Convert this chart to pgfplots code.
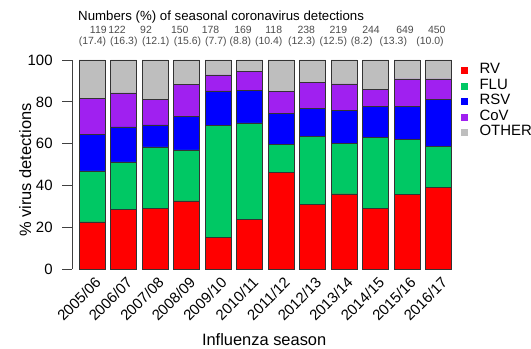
\documentclass[border=0pt]{standalone}
\usepackage{fontspec}
\setmainfont{Liberation Sans}
\usepackage{pgfplots}
\pgfplotsset{compat=1.18}
\definecolor{cRV}{RGB}{255,0,0}
\definecolor{cFLU}{RGB}{0,200,100}
\definecolor{cRSV}{RGB}{0,0,255}
\definecolor{cCoV}{RGB}{160,32,240}
\definecolor{cOTH}{RGB}{190,190,190}
\tikzset{numlab/.style={anchor=base, inner sep=0pt, text=black!70, font=\fontsize{10.5}{12}\selectfont}}
\begin{document}
\begin{tikzpicture}
\begin{axis}[
 scale only axis, width=381.8bp, height=209.3bp,
 xmin=-0.62, xmax=11.5, ymin=0, ymax=100,
 ybar stacked, bar width=26bp,
 axis lines*=left,
 x axis line style={draw=none},
 y axis line style={black!75, line width=0.8bp},
 xtick={0,...,11},
 xticklabels={2005/06,2006/07,2007/08,2008/09,2009/10,2010/11,2011/12,2012/13,2013/14,2014/15,2015/16,2016/17},
 xtick style={draw=none},
 ytick={0,20,...,100},
 ytick style={black!75, line width=0.8bp},
 tick align=outside, major tick length=10bp,
 /pgf/number format/assume math mode=true,
 yticklabel style={font=\fontsize{15}{18}\selectfont, anchor=east, inner sep=0pt, xshift=-9.7bp},
 xticklabel style={font=\fontsize{15}{18}\selectfont, rotate=45, anchor=north east, inner sep=0pt, xshift=4bp, yshift=1bp},
 ylabel={\% virus detections},
 ylabel style={at={(axis description cs:-0.124,0.474)}, anchor=center, font=\fontsize{16.5}{19}\selectfont},
 xlabel={Influenza season},
 xlabel style={at={(axis description cs:0.502,0)}, anchor=base, yshift=-75.7bp, font=\fontsize{16.5}{19}\selectfont},
 legend style={at={(axis cs:11.705,98.85)}, anchor=north west, draw=none, fill=none, inner sep=0pt, column sep=12bp, row sep=0pt,
   nodes={inner sep=0pt, text height=11bp, text depth=4.5bp}, font=\fontsize{15}{15.5}\selectfont},
 legend cell align=left,
 clip=false,
 every axis plot/.append style={draw=black!80, line width=0.6bp},
]
\addplot[fill=cRV, legend image code/.code={\fill[cRV] (0bp,-3bp) rectangle (6bp,3bp);}] coordinates {(0,22.6) (1,28.5) (2,29.2) (3,32.7) (4,15.3) (5,23.9) (6,46.4) (7,31.1) (8,36.0) (9,29.0) (10,35.7) (11,39.2)};
\addplot[fill=cFLU, legend image code/.code={\fill[cFLU] (0bp,-3bp) rectangle (6bp,3bp);}] coordinates {(0,24.4) (1,22.8) (2,29.3) (3,24.3) (4,53.6) (5,46.0) (6,13.1) (7,32.3) (8,24.0) (9,34.2) (10,26.2) (11,19.6)};
\addplot[fill=cRSV, legend image code/.code={\fill[cRSV] (0bp,-3bp) rectangle (6bp,3bp);}] coordinates {(0,17.3) (1,16.7) (2,10.5) (3,15.9) (4,16.3) (5,15.7) (6,15.0) (7,13.6) (8,16.1) (9,14.5) (10,15.8) (11,22.2)};
\addplot[fill=cCoV, legend image code/.code={\fill[cCoV] (0bp,-3bp) rectangle (6bp,3bp);}] coordinates {(0,17.4) (1,16.3) (2,12.1) (3,15.6) (4,7.7) (5,8.8) (6,10.4) (7,12.3) (8,12.5) (9,8.2) (10,13.3) (11,10.0)};
\addplot[fill=cOTH, legend image code/.code={\fill[cOTH] (0bp,-3bp) rectangle (6bp,3bp);}] coordinates {(0,18.3) (1,15.7) (2,18.9) (3,11.5) (4,7.1) (5,5.6) (6,15.1) (7,10.7) (8,11.4) (9,14.1) (10,9.0) (11,9.0)};
\legend{RV,FLU,RSV,CoV,OTHER}
\node[anchor=base west, inner sep=0pt, font=\fontsize{13.3}{16}\selectfont] at (axis cs:-0.444,118.8) {Numbers (\%) of seasonal coronavirus detections};
\node[numlab] at (axis cs:0.2,112.8) {119};
\node[numlab] at (axis cs:0.794,112.8) {122};
\node[numlab] at (axis cs:1.714,112.8) {92};
\node[numlab] at (axis cs:2.784,112.8) {150};
\node[numlab] at (axis cs:3.762,112.8) {178};
\node[numlab] at (axis cs:4.794,112.8) {169};
\node[numlab] at (axis cs:5.768,112.8) {118};
\node[numlab] at (axis cs:6.803,112.8) {238};
\node[numlab] at (axis cs:7.819,112.8) {219};
\node[numlab] at (axis cs:8.857,112.8) {244};
\node[numlab] at (axis cs:9.937,112.8) {649};
\node[numlab] at (axis cs:10.943,112.8) {450};
\node[numlab] at (axis cs:0.016,107.2) {(17.4)};
\node[numlab] at (axis cs:1.01,107.2) {(16.3)};
\node[numlab] at (axis cs:2.025,107.2) {(12.1)};
\node[numlab] at (axis cs:3.03,107.2) {(15.6)};
\node[numlab] at (axis cs:3.93,107.2) {(7.7)};
\node[numlab] at (axis cs:4.708,107.2) {(8.8)};
\node[numlab] at (axis cs:5.61,107.2) {(10.4)};
\node[numlab] at (axis cs:6.657,107.2) {(12.3)};
\node[numlab] at (axis cs:7.66,107.2) {(12.5)};
\node[numlab] at (axis cs:8.562,107.2) {(8.2)};
\node[numlab] at (axis cs:9.565,107.2) {(13.3)};
\node[numlab] at (axis cs:10.73,107.2) {(10.0)};
\end{axis}
\pgfresetboundingbox
\path[use as bounding box] (-72.5bp,-79.7bp) rectangle (458.5bp,269.3bp);
\end{tikzpicture}
\end{document}
